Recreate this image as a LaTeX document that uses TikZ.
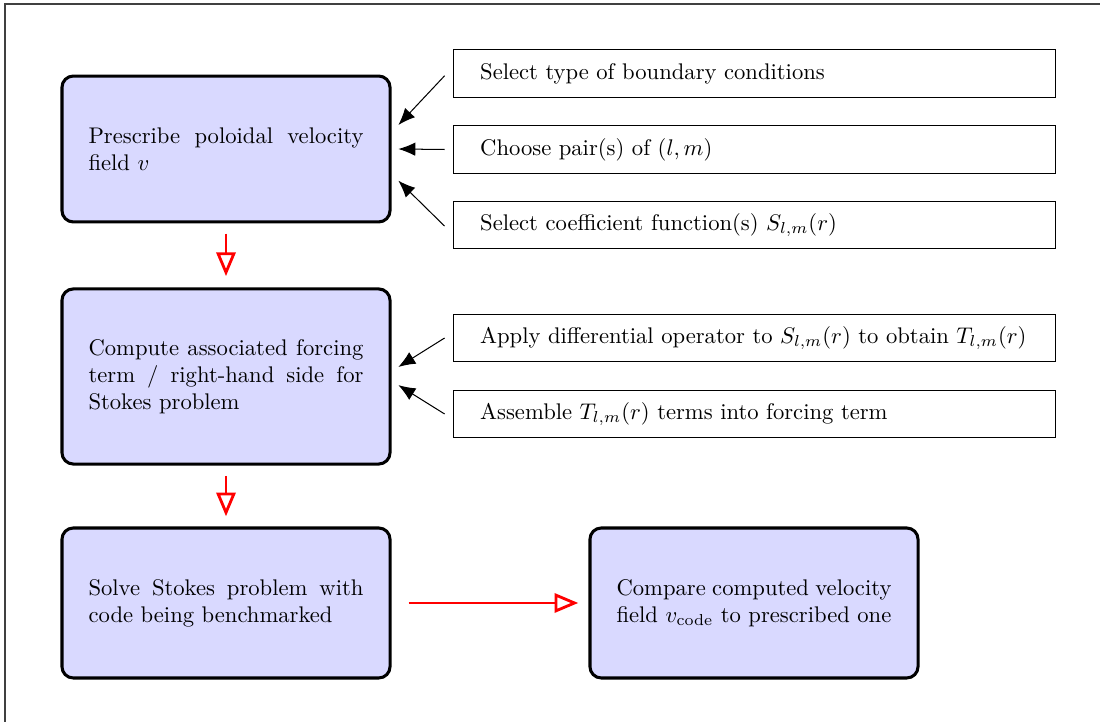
\documentclass[tikz,border=0pt]{standalone}
\usetikzlibrary{arrows.meta}
\begin{document}
\begin{tikzpicture}[x=0.442pt,y=-0.442pt,
  mainbox/.style={draw=black,line width=1.35pt,rounded corners=5pt,fill=blue!15,
    minimum width=145pt,text width=121.5pt,align=justify,inner xsep=11.75pt},
  sidebox/.style={draw=black,line width=0.45pt,minimum width=266.5pt,minimum height=21pt,
    text width=242.5pt,inner xsep=12pt,align=left},
  inarrow/.style={draw=black,line width=0.45pt,-{Latex[length=7.5pt,width=6pt]}},
  flowarrow/.style={draw=red,line width=1.25pt,-{Triangle[open,length=10.5pt,width=8.5pt,line width=1.25pt]}}]
\useasboundingbox (0,0) rectangle (1100,722);
\draw[line width=0.5pt,black!75] (5,740) -- (5,4) -- (1110,4);

\node[mainbox,minimum height=64.5pt] (b1) at (226,149) {Prescribe poloidal velocity field $v$};
\node[mainbox,minimum height=77.4pt] (b2) at (226,376.5) {Compute associated forcing term / right-hand side for Stokes problem};
\node[mainbox,minimum height=66.3pt] (b3) at (226,603) {Solve Stokes problem with code being benchmarked};
\node[mainbox,minimum height=66.3pt] (b4) at (754,603) {Compare computed velocity field $v_{\mathrm{code}}$ to prescribed one};

\node[sidebox] (r1) at (754.5,73.5) {Select type of boundary conditions};
\node[sidebox] (r2) at (754.5,149.5) {Choose pair(s) of $(l,m)$};
\node[sidebox] (r3) at (754.5,225) {Select coefficient function(s) $S_{l,m}(r)$};
\node[sidebox] (r4) at (754.5,338) {Apply differential operator to $S_{l,m}(r)$ to obtain $T_{l,m}(r)$};
\node[sidebox] (r5) at (754.5,414) {Assemble $T_{l,m}(r)$ terms into forcing term};

\draw[inarrow] ([xshift=-3.5pt,yshift=-1pt]r1.west) -- ([xshift=3pt,yshift=10.6pt]b1.east);
\draw[inarrow] ([xshift=-3.5pt]r2.west) -- ([xshift=3pt]b1.east);
\draw[inarrow] ([xshift=-3.5pt,yshift=-0.5pt]r3.west) -- ([xshift=3pt,yshift=-14pt]b1.east);
\draw[inarrow] ([xshift=-3.5pt]r4.west) -- ([xshift=3pt,yshift=4.2pt]b2.east);
\draw[inarrow] ([xshift=-3.5pt]r5.west) -- ([xshift=3pt,yshift=-3.8pt]b2.east);

\draw[flowarrow] ([yshift=-4.5pt]b1.south) -- ([yshift=5pt]b2.north);
\draw[flowarrow] ([yshift=-4.5pt]b2.south) -- ([yshift=4.5pt]b3.north);
\draw[flowarrow] ([xshift=7.5pt]b3.east) -- ([xshift=-4.5pt]b4.west);
\end{tikzpicture}
\end{document}
